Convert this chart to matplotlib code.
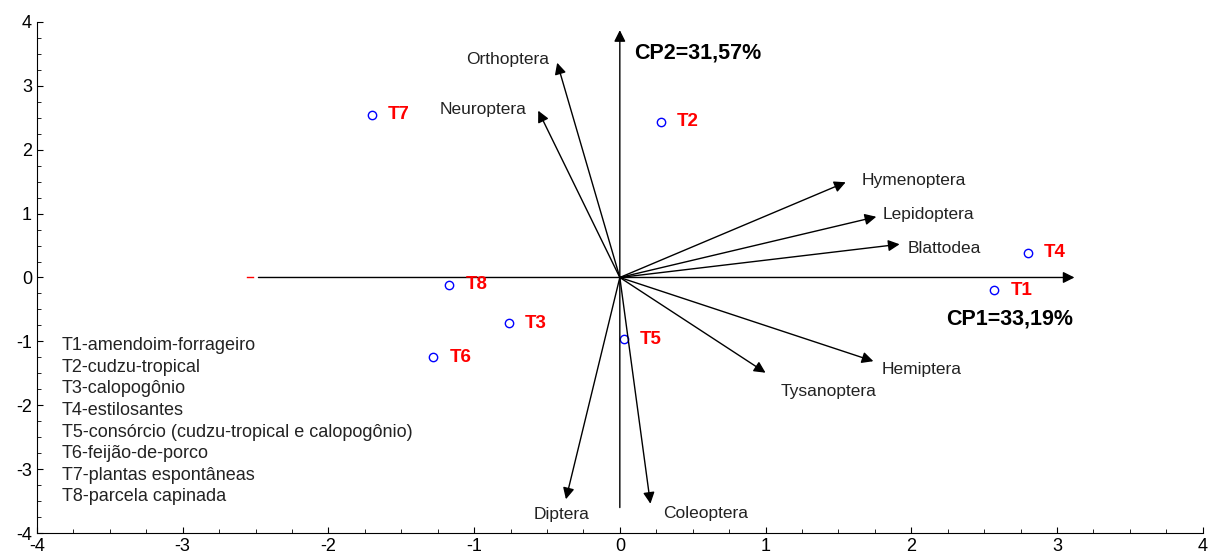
import matplotlib
matplotlib.use('Agg')
import matplotlib.pyplot as plt
from matplotlib.ticker import MultipleLocator

plt.rcParams['font.family'] = ['Liberation Sans', 'DejaVu Sans']
plt.rcParams['axes.unicode_minus'] = False

# Treatment scores
treatments = ['T1', 'T2', 'T3', 'T4', 'T5', 'T6', 'T7', 'T8']
score_x = [2.57, 0.28, -0.76, 2.80, 0.03, -1.28, -1.70, -1.17]
score_y = [-0.20, 2.44, -0.72, 0.39, -0.97, -1.25, 2.55, -0.11]

# Insect order loadings (arrow tips)
orders = ['Orthoptera', 'Neuroptera', 'Hymenoptera', 'Lepidoptera', 'Blattodea',
          'Hemiptera', 'Tysanoptera', 'Coleoptera', 'Diptera']
load_x = [-0.43, -0.56, 1.55, 1.76, 1.92, 1.74, 1.00, 0.21, -0.37]
load_y = [3.36, 2.61, 1.49, 0.95, 0.52, -1.31, -1.49, -3.54, -3.47]
# label positions for each order
lab_x = [-0.77, -0.94, 2.02, 2.12, 2.23, 2.07, 1.43, 0.59, -0.40]
lab_y = [3.41, 2.63, 1.52, 0.99, 0.45, -1.44, -1.78, -3.69, -3.71]

legend_lines = ['T1-amendoim-forrageiro', 'T2-cudzu-tropical', 'T3-calopogônio',
                'T4-estilosantes', 'T5-consórcio (cudzu-tropical e calopogônio)',
                'T6-feijão-de-porco', 'T7-plantas espontâneas', 'T8-parcela capinada']

fig = plt.figure(figsize=(12.08, 5.6), dpi=100)
ax = fig.add_axes([0.0306, 0.048, 0.965, 0.913])
ax.set_xlim(-4, 4)
ax.set_ylim(-4, 4)

# principal component axes
arrow = dict(arrowstyle='-|>', color='black', lw=1, mutation_scale=17, shrinkA=0, shrinkB=0)
ax.annotate('', xy=(3.12, 0), xytext=(-2.48, 0), arrowprops=arrow)
ax.annotate('', xy=(0, 3.87), xytext=(0, -3.6), arrowprops=arrow)
ax.plot([-2.56, -2.52], [0, 0], color='red', lw=1)
ax.text(0.1, 3.52, 'CP2=31,57%', fontsize=15.5, fontweight='bold', va='center')
ax.text(2.24, -0.65, 'CP1=33,19%', fontsize=15.5, fontweight='bold', va='center')

# loading vectors
for i, name in enumerate(orders):
    ax.annotate('', xy=(load_x[i], load_y[i]), xytext=(0, 0), arrowprops=arrow)
    ax.text(lab_x[i], lab_y[i], name, fontsize=12.5, ha='center', va='center', color='#222222')

# treatment scores
ax.plot(score_x, score_y, 'o', mfc='none', mec='blue', ms=6, mew=1)
for i, t in enumerate(treatments):
    ax.text(score_x[i] + 0.11, score_y[i], t, color='red', fontsize=13.5,
            fontweight='bold', va='center')

for i, line in enumerate(legend_lines):
    ax.text(-3.83, -1.07 - i * 0.337, line, fontsize=13, va='center', color='#222222')

for s in ['top', 'right']:
    ax.spines[s].set_visible(False)
ax.xaxis.set_major_locator(MultipleLocator(1))
ax.yaxis.set_major_locator(MultipleLocator(1))
ax.xaxis.set_minor_locator(MultipleLocator(0.25))
ax.yaxis.set_minor_locator(MultipleLocator(0.25))
ax.tick_params(which='both', direction='in', labelsize=13)
ax.tick_params(which='major', length=4)
ax.tick_params(which='minor', length=3)

fig.savefig('out.png', dpi=100)
